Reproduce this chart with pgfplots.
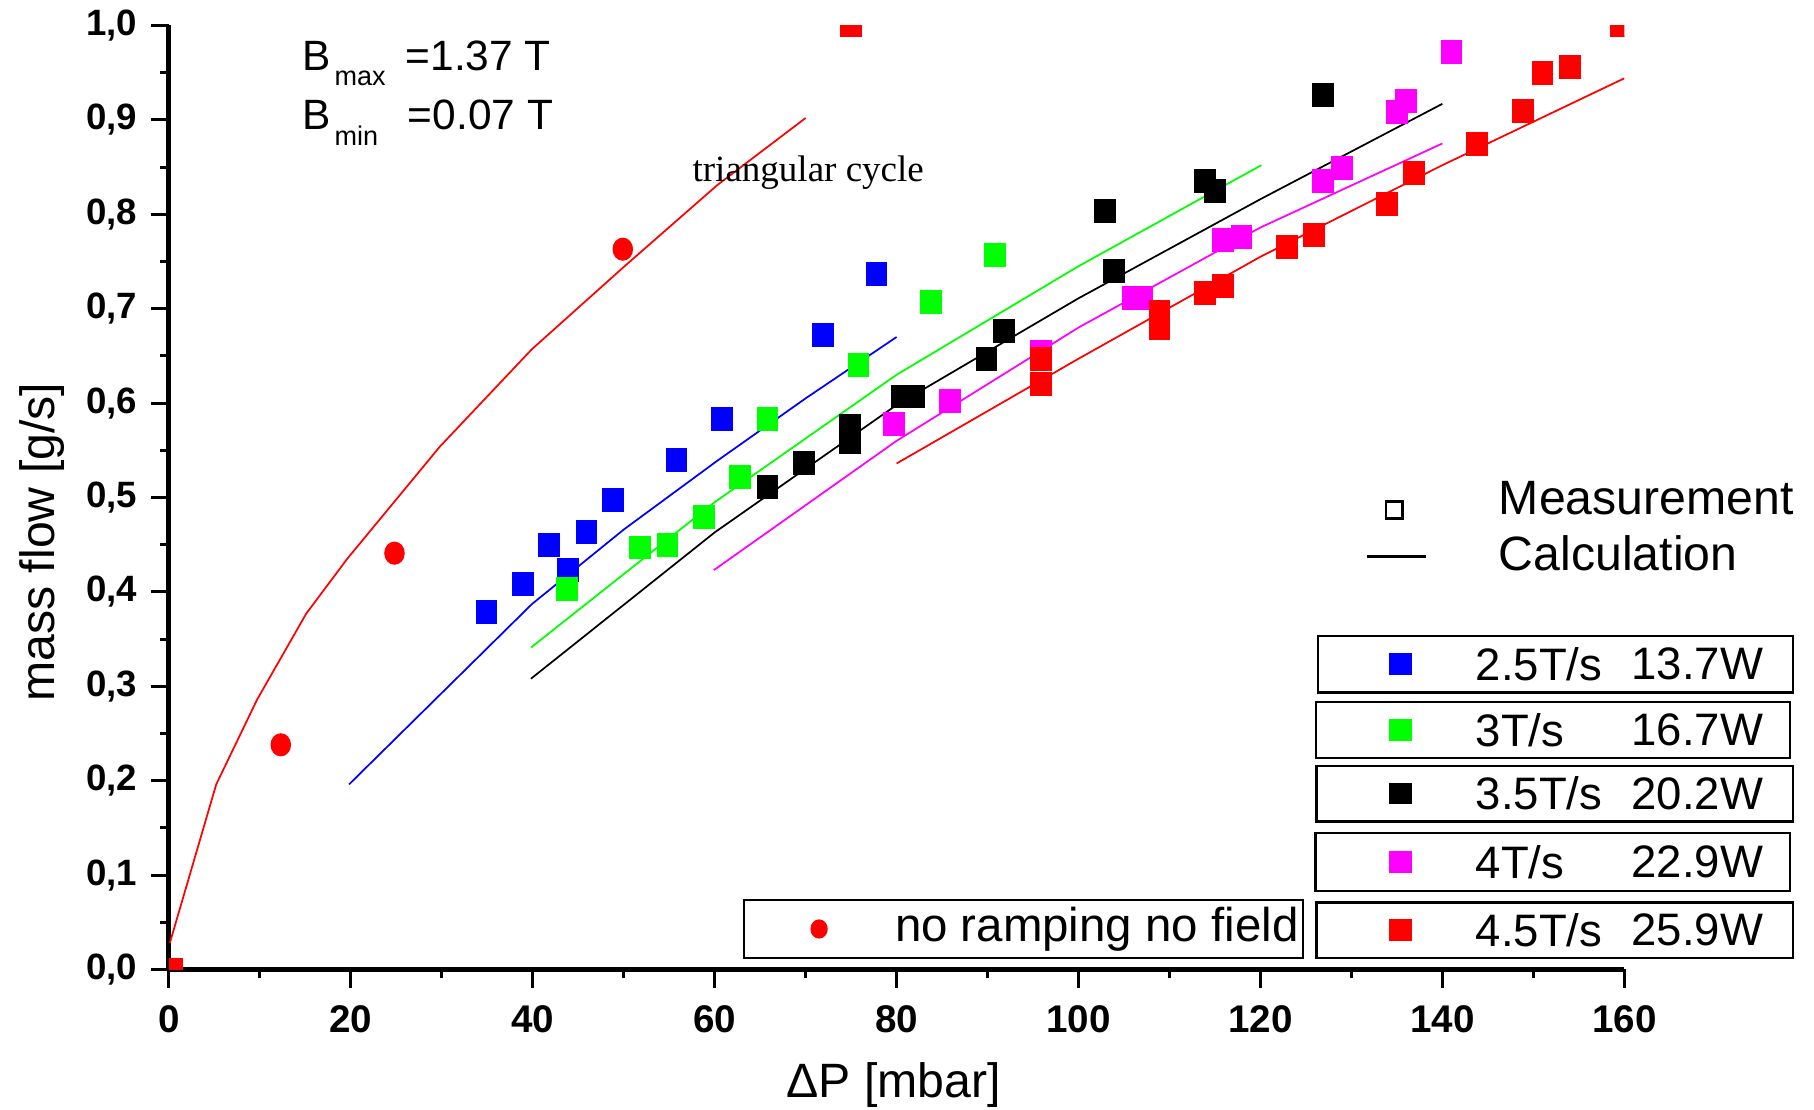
\documentclass[border=0pt]{standalone}
\usepackage{pgfplots}
\pgfplotsset{compat=1.18}
\usepackage{fontspec}
\setmainfont{Liberation Sans}
\newfontfamily\seriffont{Liberation Serif}
\definecolor{cblue}{RGB}{0,0,255}
\definecolor{cgreen}{RGB}{0,255,0}
\definecolor{cmag}{RGB}{255,0,255}
\definecolor{cred}{RGB}{255,0,0}
\begin{document}
\begin{tikzpicture}
\begin{axis}[
  at={(0pt,0pt)}, anchor=south west,
  scale only axis, width=377.4pt, height=244.8pt,
  xmin=0, xmax=160, ymin=0, ymax=1,
  axis x line=bottom, axis y line=left,
  axis line style={line width=1.3pt,-},
  xtick={0,20,40,60,80,100,120,140,160},
  ytick={0,0.1,0.2,0.3,0.4,0.5,0.6,0.7,0.8,0.9,1.0},
  minor x tick num=1, minor y tick num=1,
  tick align=outside,
  major tick length=4.7pt, minor tick length=2.3pt,
  every tick/.style={line width=0.8pt,black},
  /pgf/number format/assume math mode=true,
  xticklabel style={font=\bfseries\fontsize{10}{12}\selectfont, yshift=-1pt},
  yticklabel style={font=\bfseries\fontsize{9.5}{11}\selectfont,
     /pgf/number format/.cd, fixed, fixed zerofill, precision=1, use comma},
  xlabel={ΔP [mbar]},
  ylabel={mass flow [g/s]},
  xlabel style={font=\fontsize{12.5}{14}\selectfont, at={(axis description cs:0.498,-0.1225)}, anchor=center},
  ylabel style={font=\fontsize{12.5}{14}\selectfont, at={(axis description cs:-0.0874,0.4526)}, anchor=center, rotate=0},
  clip mode=individual,
  clip marker paths=true,
  square/.style={only marks, mark=square*, mark size=2.9pt, mark options={xscale=0.9}},
]
% calculation lines
\addplot[cred, line width=0.45pt] coordinates {(0.1,0.028) (5.2,0.196) (9.7,0.286) (15.1,0.377) (19.6,0.435) (29.8,0.554) (39.9,0.657) (50.1,0.745) (60.3,0.831) (70,0.902)};
\addplot[cblue, line width=0.45pt] coordinates {(19.8,0.196) (39.9,0.387) (50,0.466) (60.3,0.539) (70,0.605) (80,0.670)};
\addplot[cgreen, line width=0.45pt] coordinates {(39.8,0.341) (60,0.495) (80,0.630) (100,0.745) (120.1,0.852)};
\addplot[black, line width=0.45pt] coordinates {(39.8,0.308) (60,0.463) (80,0.598) (100,0.711) (120,0.816) (140,0.917)};
\addplot[cmag, line width=0.45pt] coordinates {(59.9,0.423) (80,0.560) (100,0.680) (120,0.786) (140,0.875)};
\addplot[cred, line width=0.45pt] coordinates {(80,0.536) (100,0.647) (120,0.755) (140,0.852) (160,0.944)};
% measurements
\addplot[square, cblue] coordinates {(34.9,0.379) (38.9,0.408) (41.8,0.450) (43.9,0.423) (45.9,0.463) (48.8,0.497) (55.8,0.540) (60.8,0.583) (71.9,0.672) (77.8,0.737)};
\addplot[square, cgreen] coordinates {(43.8,0.403) (51.8,0.447) (54.8,0.450) (58.8,0.479) (62.8,0.522) (65.8,0.583) (75.8,0.640) (83.8,0.707) (90.8,0.757)};
\addplot[square, black] coordinates {(65.8,0.511) (69.8,0.537) (74.9,0.559) (74.9,0.576) (80.6,0.607) (81.9,0.607) (89.9,0.647) (91.8,0.676) (102.9,0.803) (103.9,0.740) (113.9,0.835) (115,0.825) (126.9,0.926)};
\addplot[square, cmag] coordinates {(79.7,0.578) (85.9,0.602) (95.9,0.654) (106,0.711) (107,0.711) (115.9,0.773) (117.9,0.776) (126.9,0.835) (129,0.849) (135,0.908) (136,0.920) (141,0.972)};
\addplot[square, cred] coordinates {(0.4,0.0) (75,1.0) (95.9,0.647) (95.9,0.620) (108.9,0.696) (108.9,0.679) (113.9,0.717) (115.9,0.724) (122.9,0.765) (125.9,0.778) (133.9,0.811) (136.9,0.844) (143.8,0.874) (148.9,0.909) (151,0.950) (154,0.956) (159.6,1.0)};
\addplot[only marks, mark=*, mark size=2.8pt, mark options={xscale=0.88}, cred] coordinates {(12.3,0.238) (24.8,0.441) (49.9,0.763)};
\end{axis}
% annotations
\node[anchor=base west, inner sep=0, font=\fontsize{11}{13}\selectfont] at (34.5pt,233.2pt) {B};
\node[anchor=base west, inner sep=0, font=\fontsize{7}{8}\selectfont] at (42.8pt,229.3pt) {max};
\node[anchor=base west, inner sep=0, font=\fontsize{11}{13}\selectfont] at (61.2pt,233.2pt) {=1.37 T};
\node[anchor=base west, inner sep=0, font=\fontsize{11}{13}\selectfont] at (34.5pt,217.7pt) {B};
\node[anchor=base west, inner sep=0, font=\fontsize{7}{8}\selectfont] at (42.8pt,213.8pt) {min};
\node[anchor=base west, inner sep=0, font=\fontsize{11}{13}\selectfont] at (61.8pt,217.7pt) {=0.07 T};
\node[anchor=base west, inner sep=0, font=\seriffont\fontsize{9.6}{12}\selectfont] at (135.6pt,204.3pt) {triangular cycle};
% measurement / calculation key
\draw[line width=0.7pt] (315.6pt,117.0pt) rectangle (319.8pt,121.4pt);
\draw[line width=0.7pt] (310.8pt,107.1pt) -- (326.1pt,107.1pt);
\node[anchor=west, inner sep=0, font=\fontsize{12.5}{14}\selectfont] at (344.7pt,122.1pt) {Measurement};
\node[anchor=west, inner sep=0, font=\fontsize{12.5}{14}\selectfont] at (344.7pt,108.0pt) {Calculation};
% rate legend boxes
\draw[line width=0.6pt] (297.9pt,71.8pt) rectangle (421.1pt,86.5pt);
\draw[line width=0.6pt] (297.5pt,54.8pt) rectangle (420.3pt,69.45pt);
\draw[line width=0.6pt] (297.6pt,38.4pt) rectangle (421.2pt,52.8pt);
\draw[line width=0.6pt] (297.3pt,20.4pt) rectangle (420.3pt,35.4pt);
\draw[line width=0.6pt] (297.6pt,3.0pt) rectangle (421.2pt,17.4pt);
\draw[line width=0.6pt] (149.1pt,3.0pt) rectangle (294.0pt,18.0pt);
\foreach \yc/\col/\ra/\pw in {79.15/cblue/2.5T\slash s/13.7W, 62.1/cgreen/3T\slash s/16.7W, 45.6/black/3.5T\slash s/20.2W, 27.9/cmag/4T\slash s/22.9W, 10.2/cred/4.5T\slash s/25.9W}{
  \node[inner sep=0] at (319.4pt,\yc pt) {\textcolor{\col}{\rule{5.8pt}{5.6pt}}};
  \node[anchor=west, inner sep=0, font=\fontsize{11.8}{14}\selectfont] at (338.7pt,\yc pt) {\ra};
  \node[anchor=east, inner sep=0, font=\fontsize{11.8}{14}\selectfont] at (413.6pt,\yc pt) {\pw};
}
\node[circle, fill=cred, inner sep=0, minimum size=5pt, xscale=0.9] at (168.6pt,10.5pt) {};
\node[anchor=west, inner sep=0, font=\fontsize{12.3}{14}\selectfont] at (188.1pt,10.5pt) {no ramping no field};
\pgfresetboundingbox
\path (-43.8pt,-36.3pt) rectangle (426.6pt,251.4pt);
\end{tikzpicture}
\end{document}
